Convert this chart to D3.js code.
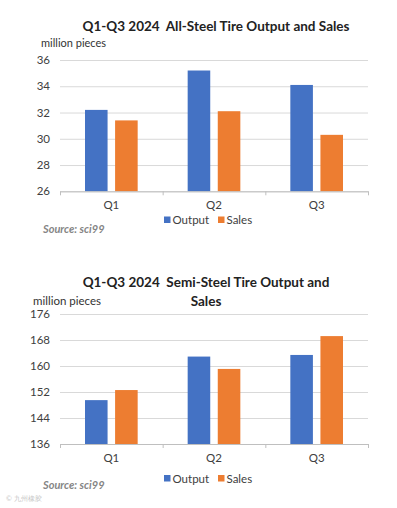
<!DOCTYPE html>
<html>
<head>
<meta charset="utf-8">
<script src="https://cdn.jsdelivr.net/npm/d3@7"></script>
<style>
  html, body { margin: 0; padding: 0; background: #fff; }
  svg { display: block; font-family: Lato, "Open Sans", sans-serif; }
  .title { white-space: pre; }
</style>
</head>
<body>
<div id="root"></div>
<script>
const quarters = ['Q1', 'Q2', 'Q3']
const seriesNames = ['Output', 'Sales']
const allSteelOutput = [32.2, 35.2, 34.1]
const allSteelSales = [31.4, 32.1, 30.3]
const allSteelTicks = [26, 28, 30, 32, 34, 36]
const semiSteelOutput = [149.5, 162.9, 163.4]
const semiSteelSales = [152.6, 159.1, 169.2]
const semiSteelTicks = [136, 144, 152, 160, 168, 176]

const width = 397
const height = 508
const colors = { Output: '#4472C4', Sales: '#ED7D31' }

const svg = d3.select('#root').append('svg')
  .attr('width', width)
  .attr('height', height)

function drawChart(opts) {
  const rows = quarters.map((q, i) => ({ q: q, Output: opts.output[i], Sales: opts.sales[i] }))
  const ticks = opts.ticks

  const x = d3.scaleBand().domain(quarters).range([60, 368])
  const xInner = d3.scaleBand().domain(seriesNames)
    .range([25, x.bandwidth() - 25]).paddingInner(0.25)
  const y = d3.scaleLinear().domain([ticks[0], ticks[ticks.length - 1]]).range([opts.bottom, opts.top])

  const g = svg.append('g')

  // title
  g.append('text')
    .attr('class', 'title')
    .attr('text-anchor', 'middle')
    .attr('font-weight', 'bold')
    .attr('font-size', opts.titleSize)
    .attr('fill', '#222')
    .selectAll('tspan')
    .data(opts.title)
    .enter()
    .append('tspan')
    .attr('x', opts.titleX)
    .attr('y', (d, i) => opts.titleY + i * 19)
    .text(d => d)

  g.append('text')
    .attr('x', opts.unitX)
    .attr('y', opts.unitY)
    .attr('font-size', opts.unitSize)
    .attr('fill', '#333')
    .text('million pieces')

  // gridlines + y labels
  g.append('g')
    .attr('transform', 'translate(60,0)')
    .call(d3.axisLeft(y).tickValues(ticks).tickSize(-308).tickPadding(10))
    .call(a => a.select('.domain').remove())
    .call(a => a.selectAll('line').attr('stroke', '#d9d9d9'))
    .call(a => a.selectAll('text').attr('font-size', 11.5).attr('fill', '#404040').attr('font-family', 'Lato'))

  // bars
  g.append('g')
    .selectAll('g')
    .data(rows)
    .enter()
    .append('g')
    .attr('transform', d => 'translate(' + x(d.q) + ',0)')
    .selectAll('rect')
    .data(d => seriesNames.map(s => ({ s: s, v: d[s] })))
    .enter()
    .append('rect')
    .attr('x', d => xInner(d.s))
    .attr('width', xInner.bandwidth())
    .attr('y', d => y(d.v))
    .attr('height', d => y(ticks[0]) - y(d.v))
    .attr('fill', d => colors[d.s])

  // x axis
  g.append('g')
    .attr('transform', 'translate(0,' + opts.bottom + ')')
    .call(d3.axisBottom(x).tickSize(0).tickPadding(10))
    .call(a => a.select('.domain').attr('stroke', '#bfbfbf'))
    .call(a => a.selectAll('text').attr('font-size', 11.5).attr('fill', '#404040').attr('font-family', 'Lato'))

  g.append('g')
    .selectAll('line')
    .data(quarters.map(q => x(q)).concat([x.range()[1]]))
    .enter()
    .append('line')
    .attr('x1', d => d + 0.5).attr('x2', d => d + 0.5)
    .attr('y1', opts.bottom).attr('y2', opts.bottom + 4)
    .attr('stroke', '#bfbfbf')

  // legend
  const legend = g.append('g')
    .selectAll('g')
    .data(seriesNames)
    .enter()
    .append('g')
    .attr('transform', (d, i) => 'translate(' + (164 + i * 54) + ',' + opts.legendY + ')')
  legend.append('rect')
    .attr('y', -3).attr('width', 6.5).attr('height', 6.5)
    .attr('fill', d => colors[d])
  legend.append('text')
    .attr('x', 8.5).attr('y', 4.5)
    .attr('font-size', 11.5)
    .attr('fill', '#404040')
    .text(d => d)

  g.append('text')
    .attr('x', 43).attr('y', opts.sourceY)
    .attr('font-size', 11)
    .attr('font-weight', 'bold')
    .attr('font-style', 'italic')
    .attr('fill', '#858585')
    .text('Source: sci99')
}

drawChart({
  title: ['Q1-Q3 2024  All-Steel Tire Output and Sales'],
  titleX: 216, titleY: 31, titleSize: 13.5,
  unitX: 41, unitY: 47, unitSize: 11,
  top: 60, bottom: 191.3,
  ticks: allSteelTicks,
  output: allSteelOutput, sales: allSteelSales,
  legendY: 219.5, sourceY: 233
})

drawChart({
  title: ['Q1-Q3 2024  Semi-Steel Tire Output and', 'Sales'],
  titleX: 206, titleY: 287, titleSize: 13.5,
  unitX: 33, unitY: 304.5, unitSize: 11.5,
  top: 314, bottom: 444,
  ticks: semiSteelTicks,
  output: semiSteelOutput, sales: semiSteelSales,
  legendY: 478, sourceY: 489
})

svg.append('text')
  .attr('x', 6).attr('y', 501)
  .attr('font-size', 7)
  .attr('fill', '#c8c8c8')
  .text('© 九州橡胶')
</script>
</body>
</html>
